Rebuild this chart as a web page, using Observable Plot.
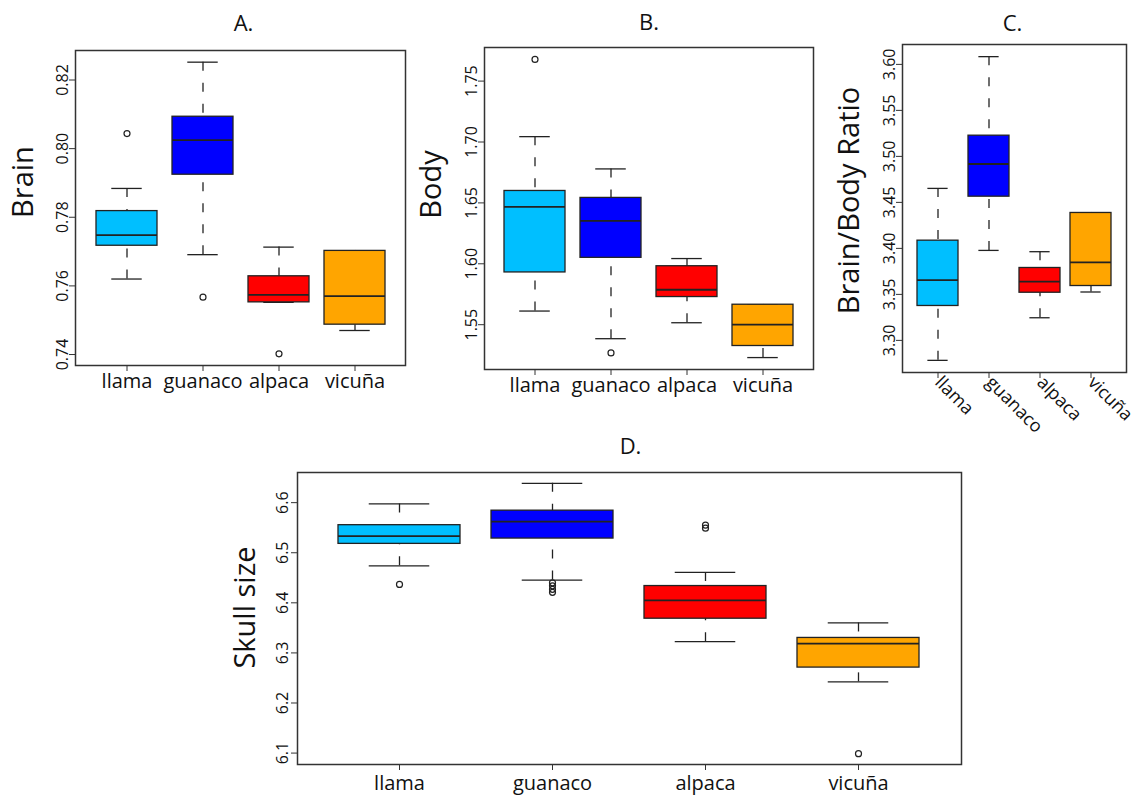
<!DOCTYPE html>
<html><head><meta charset="utf-8">
<script src="https://cdn.jsdelivr.net/npm/d3@7"></script>
<script src="https://cdn.jsdelivr.net/npm/@observablehq/plot@0.6"></script>
<style>
body{margin:0;background:#fff;}
#wrap{position:relative;width:1140px;height:802px;font-family:"Open Sans",sans-serif;}
#wrap svg{position:absolute;overflow:visible;}
</style></head><body><div id="wrap"></div>
<script>
const species = ["llama", "guanaco", "alpaca", "vicuña"];
const speciesColors = ["#00BFFF", "#0000FF", "#FF0000", "#FFA500"];

// A. Brain
const brainLow    = [0.7620, 0.7691, 0.7552, 0.7470];
const brainQ1     = [0.7717, 0.7924, 0.7552, 0.7487];
const brainMedian = [0.7748, 0.8025, 0.7574, 0.7570];
const brainQ3     = [0.7818, 0.8093, 0.7628, 0.7702];
const brainHigh   = [0.7884, 0.8252, 0.7713, 0.7702];
const brainOutliers = [[0.8044], [0.7567], [0.7402], []];
const brainTicks = [0.74, 0.76, 0.78, 0.80, 0.82];

// B. Body
const bodyLow    = [1.5612, 1.5385, 1.5516, 1.5230];
const bodyQ1     = [1.5929, 1.6049, 1.5727, 1.5325];
const bodyMedian = [1.6467, 1.6352, 1.5787, 1.5500];
const bodyQ3     = [1.6598, 1.6541, 1.5980, 1.5664];
const bodyHigh   = [1.7044, 1.6779, 1.6043, 1.5664];
const bodyOutliers = [[1.7678], [1.5268], [], []];
const bodyTicks = [1.55, 1.60, 1.65, 1.70, 1.75];

// C. Brain/Body Ratio
const ratioLow    = [3.2783, 3.3978, 3.3246, 3.3526];
const ratioQ1     = [3.3374, 3.4562, 3.3518, 3.3591];
const ratioMedian = [3.3656, 3.4917, 3.3638, 3.3848];
const ratioQ3     = [3.4084, 3.5225, 3.3787, 3.4385];
const ratioHigh   = [3.4652, 3.6084, 3.3964, 3.4385];
const ratioOutliers = [[], [], [], []];
const ratioTicks = [3.30, 3.35, 3.40, 3.45, 3.50, 3.55, 3.60];

// D. Skull size
const skullLow    = [6.4739, 6.4454, 6.3225, 6.2422];
const skullQ1     = [6.5177, 6.5283, 6.3683, 6.2707];
const skullMedian = [6.5331, 6.5622, 6.4048, 6.3186];
const skullQ3     = [6.5550, 6.5840, 6.4335, 6.3299];
const skullHigh   = [6.5974, 6.6386, 6.4606, 6.3598];
const skullOutliers = [[6.4367], [6.4400, 6.4340, 6.4270, 6.4210], [6.5550, 6.5490], [6.0988]];
const skullTicks = [6.1, 6.2, 6.3, 6.4, 6.5, 6.6];

const wrap = document.getElementById("wrap");
const ink = "#222";

function panel(cfg) {
  const rows = species.map((s, i) => ({
    species: s, low: cfg.low[i], q1: cfg.q1[i], median: cfg.median[i], q3: cfg.q3[i], high: cfg.high[i]
  }));
  const outs = species.flatMap((s, i) => cfg.outliers[i].map(v => ({species: s, value: v})));
  const all = [...cfg.low, ...cfg.high, ...outs.map(d => d.value)];
  const [mn, mx] = d3.extent(all);
  const pad = (mx - mn) * 0.04;
  const m = cfg.margins;
  const frameW = cfg.width - m[1] - m[3];
  const bandwidth = frameW / (species.length + 0.32) * 0.8;
  const capInset = bandwidth / 4;
  const chart = Plot.plot({
    width: cfg.width,
    height: cfg.height,
    marginTop: m[0], marginRight: m[1], marginBottom: m[2], marginLeft: m[3],
    style: {background: "transparent", overflow: "visible", fontFamily: "'Open Sans', sans-serif", color: "#111"},
    x: {type: "band", domain: species, paddingInner: 0.2, paddingOuter: 0.26},
    y: {domain: [mn - pad, mx + pad]},
    color: {domain: species, range: speciesColors},
    marks: [
      Plot.ruleX(rows, {x: "species", y1: "high", y2: "q3", stroke: ink, strokeWidth: 1.3, strokeDasharray: "9,12"}),
      Plot.ruleX(rows, {x: "species", y1: "low", y2: "q1", stroke: ink, strokeWidth: 1.3, strokeDasharray: "9,12"}),
      Plot.tickY(rows, {x: "species", y: "high", stroke: ink, strokeWidth: 1.3, insetLeft: capInset, insetRight: capInset}),
      Plot.tickY(rows, {x: "species", y: "low", stroke: ink, strokeWidth: 1.3, insetLeft: capInset, insetRight: capInset}),
      Plot.barY(rows, {x: "species", y1: "q1", y2: "q3", fill: "species", stroke: ink, strokeWidth: 1.3}),
      Plot.tickY(rows, {x: "species", y: "median", stroke: ink, strokeWidth: 1.8}),
      Plot.dot(outs, {x: "species", y: "value", r: 3, stroke: ink, strokeWidth: 1.2, fill: "none"}),
      Plot.frame({stroke: "#333", strokeWidth: 1.5}),
      Plot.axisY(cfg.ticks, {anchor: "left", tickRotate: -90, tickSize: 6, tickPadding: cfg.yPad, fontSize: 16, tickFormat: d3.format(cfg.fmt), label: null, stroke: "#333"}),
      Plot.axisX({tickSize: 6, tickPadding: cfg.xPad, fontSize: cfg.xFont, label: null, tickRotate: cfg.xRotate || 0, stroke: "#333"}),
      Plot.text([cfg.title], {text: d => d, frameAnchor: "top", lineAnchor: "bottom", textAnchor: "middle", dy: cfg.titleDy, dx: cfg.titleDx, fontSize: 22}),
      Plot.text([cfg.yLabel], {text: d => d, frameAnchor: "left", textAnchor: "middle", lineAnchor: "middle", rotate: -90, dx: cfg.labelDx, dy: cfg.labelDy, fontSize: 29})
    ]
  });
  chart.style.left = cfg.left + "px";
  chart.style.top = cfg.top + "px";
  wrap.appendChild(chart);
}

panel({title: "A.", yLabel: "Brain", low: brainLow, q1: brainQ1, median: brainMedian, q3: brainQ3, high: brainHigh,
  outliers: brainOutliers, ticks: brainTicks, fmt: ".2f", left: 0, top: 0, width: 420, height: 440,
  margins: [50, 15, 75, 75], titleDy: -20, titleDx: 3, labelDx: -52, labelDy: -26, xFont: 20, xPad: 2, yPad: 2});
panel({title: "B.", yLabel: "Body", low: bodyLow, q1: bodyQ1, median: bodyMedian, q3: bodyQ3, high: bodyHigh,
  outliers: bodyOutliers, ticks: bodyTicks, fmt: ".2f", left: 420, top: 0, width: 410, height: 440,
  margins: [47, 17, 71, 64], titleDy: -18, titleDx: 0, labelDx: -53, labelDy: -24, xFont: 20, xPad: 2, yPad: 2});
panel({title: "C.", yLabel: "Brain/Body Ratio", low: ratioLow, q1: ratioQ1, median: ratioMedian, q3: ratioQ3, high: ratioHigh,
  outliers: ratioOutliers, ticks: ratioTicks, fmt: ".2f", left: 830, top: 0, width: 310, height: 440,
  margins: [44, 14, 68, 72], titleDy: -14, titleDx: -2, labelDx: -53, labelDy: -8, xRotate: 45, xFont: 18, xPad: 1, yPad: 2});
panel({title: "D.", yLabel: "Skull size", low: skullLow, q1: skullQ1, median: skullMedian, q3: skullQ3, high: skullHigh,
  outliers: skullOutliers, ticks: skullTicks, fmt: ".1f", left: 0, top: 440, width: 1140, height: 362,
  margins: [32, 179, 38, 297], titleDy: -19, titleDx: 1, labelDx: -52, labelDy: -11, xFont: 20, xPad: 5, yPad: 4});
</script></body></html>
